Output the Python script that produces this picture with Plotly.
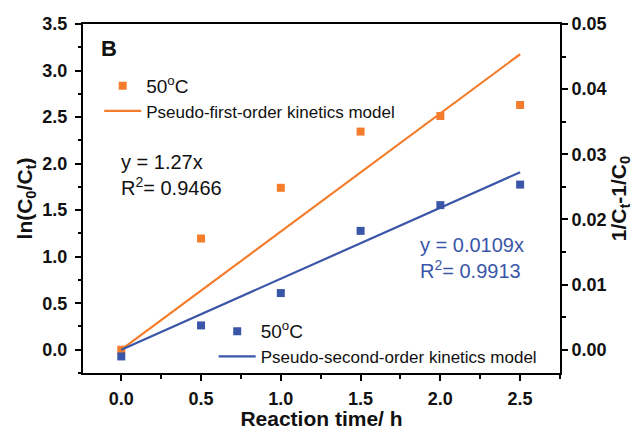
import plotly.graph_objects as go

# Reaction time (h)
time_h = [0.0, 0.5, 1.0, 1.5, 2.0, 2.5]
# ln(C0/Ct) measured at 50 °C
ln_ratio = [0.0, 1.195, 1.74, 2.344, 2.512, 2.63]
# 1/Ct - 1/C0 measured at 50 °C
inv_diff = [-0.00103, 0.00373, 0.0087, 0.01825, 0.0222, 0.02535]

# Fitted slopes (through origin)
k1 = 1.27
k2 = 0.0109
fit_x = [0.0, 2.5]

ORANGE = "#F47D2B"
BLUE = "#3A56A8"
FONT = "Liberation Sans, Arial, sans-serif"

fig = go.Figure()

fig.add_trace(go.Scatter(
    x=time_h, y=ln_ratio, mode="markers",
    marker=dict(symbol="square", size=8, color=ORANGE),
    name='<span style="font-size:19px">50<sup>o</sup>C</span>',
    legend="legend", yaxis="y",
))
fig.add_trace(go.Scatter(
    x=fit_x, y=[k1 * x for x in fit_x], mode="lines",
    line=dict(color=ORANGE, width=2.2),
    name="Pseudo-first-order kinetics model",
    legend="legend", yaxis="y",
))
fig.add_trace(go.Scatter(
    x=time_h, y=inv_diff, mode="markers",
    marker=dict(symbol="square", size=8, color=BLUE),
    name='<span style="font-size:19px">50<sup>o</sup>C</span>',
    legend="legend2", yaxis="y2",
))
fig.add_trace(go.Scatter(
    x=fit_x, y=[k2 * x for x in fit_x], mode="lines",
    line=dict(color=BLUE, width=2.2),
    name="Pseudo-second-order kinetics model",
    legend="legend2", yaxis="y2",
))

y_lo, y_hi = -0.25, 3.5
ratio = 0.05 / 3.5

tick_font = dict(family=FONT, size=18, color="#111", weight="bold")
title_font = dict(family=FONT, size=21, color="#111", weight="bold")
minor_ticks = dict(ticks="outside", ticklen=3.5, tickcolor="black", tickwidth=1.5)

fig.update_layout(
    width=641, height=430,
    margin=dict(l=83, r=81, t=24, b=57, autoexpand=False),
    plot_bgcolor="white", paper_bgcolor="white",
    font=dict(family=FONT, color="#111"),
    xaxis=dict(
        range=[-0.24, 2.75], tickvals=[0, 0.5, 1.0, 1.5, 2.0, 2.5],
        ticktext=["0.0", "0.5", "1.0", "1.5", "2.0", "2.5"],
        showgrid=False, zeroline=False, showline=True, linecolor="black",
        linewidth=2, mirror=True, ticks="outside", ticklen=6, tickwidth=1.5,
        tickcolor="black", tickfont=tick_font, ticklabelstandoff=2,
        minor=dict(dtick=0.25, tick0=0, **minor_ticks),
        automargin=False,
        title=dict(text="Reaction time/ h", font=title_font),
    ),
    yaxis=dict(
        range=[y_lo, y_hi], tickvals=[0, 0.5, 1.0, 1.5, 2.0, 2.5, 3.0, 3.5],
        ticktext=["0.0", "0.5", "1.0", "1.5", "2.0", "2.5", "3.0", "3.5"],
        showgrid=False, zeroline=False, showline=True, linecolor="black",
        linewidth=2, ticks="outside", ticklen=6, tickwidth=1.5,
        tickcolor="black", tickfont=tick_font, ticklabelstandoff=4,
        minor=dict(dtick=0.25, tick0=0, **minor_ticks),
        automargin=False,
        title=dict(text="ln(C<sub>0</sub>/C<sub>t</sub>)", font=title_font, standoff=4),
    ),
    yaxis2=dict(
        overlaying="y", side="right",
        range=[y_lo * ratio, y_hi * ratio],
        tickvals=[0, 0.01, 0.02, 0.03, 0.04, 0.05],
        ticktext=["0.00", "0.01", "0.02", "0.03", "0.04", "0.05"],
        showgrid=False, zeroline=False, showline=True, linecolor="black",
        linewidth=2, ticks="outside", ticklen=6, tickwidth=1.5,
        tickcolor="black", tickfont=tick_font,
        minor=dict(dtick=0.005, tick0=0, **minor_ticks),
        automargin=False,
        title=dict(text="1/C<sub>t</sub>-1/C<sub>0</sub>", font=title_font, standoff=4),
    ),
    legend=dict(
        x=0.034, y=0.873, xanchor="left", yanchor="top",
        bgcolor="rgba(0,0,0,0)", borderwidth=0,
        font=dict(family=FONT, size=17, color="#111"),
        tracegroupgap=0, itemwidth=37,
    ),
    legend2=dict(
        x=0.274, y=0.170, xanchor="left", yanchor="top",
        bgcolor="rgba(0,0,0,0)", borderwidth=0,
        font=dict(family=FONT, size=17, color="#111"),
        tracegroupgap=0, itemwidth=37,
    ),
    showlegend=True,
)

fig.add_annotation(
    x=0.034, y=0.93, xref="paper", yref="paper", xanchor="left", yanchor="middle",
    text="<b>B</b>", showarrow=False, font=dict(family=FONT, size=22, color="#111"),
)
fig.add_annotation(
    x=0.0755, y=0.567, xref="paper", yref="paper", xanchor="left", yanchor="middle",
    text=f"y = {k1}x<br>R<sup>2</sup>= 0.9466", showarrow=False, align="left",
    font=dict(family=FONT, size=20, color="#111"),
)
fig.add_annotation(
    x=0.703, y=0.33, xref="paper", yref="paper", xanchor="left", yanchor="middle",
    text=f"y = {k2}x<br>R<sup>2</sup>= 0.9913", showarrow=False, align="left",
    font=dict(family=FONT, size=20, color=BLUE),
)

fig.write_html("out.html")
